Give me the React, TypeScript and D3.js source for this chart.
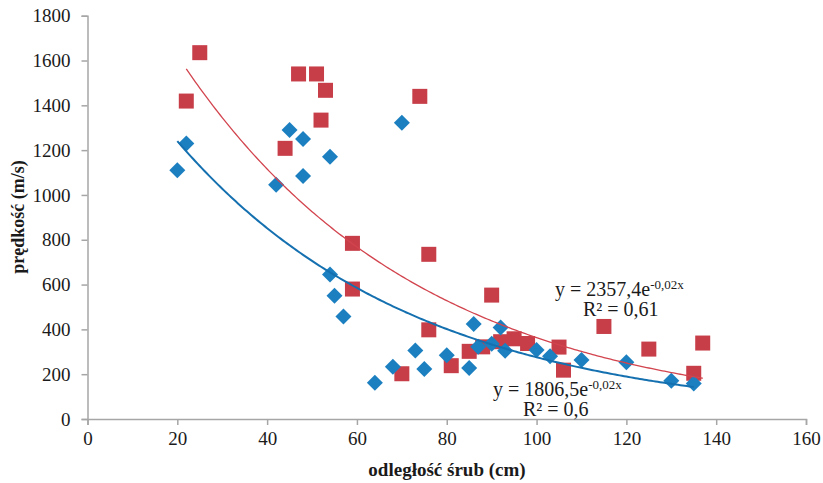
import React, { useRef, useEffect } from "react";
import * as d3 from "d3";

// series 1 (blue diamonds)
const blueDist = [20, 22, 42, 45, 48, 48, 54, 70, 54, 55, 57, 64, 68, 73, 75, 80, 85, 86, 87, 90, 92, 93, 100, 103, 110, 120, 130, 135];
const blueSpeed = [1110, 1230, 1045, 1290, 1250, 1085, 1170, 1322, 645, 550, 458, 162, 233, 306, 223, 285, 228, 424, 322, 336, 408, 305, 308, 280, 263, 253, 171, 159];

// series 2 (red squares)
const redDist = [22, 25, 44, 47, 51, 52, 53, 74, 59, 59, 76, 76, 70, 81, 90, 85, 88, 92, 95, 98, 105, 106, 115, 125, 135, 137];
const redSpeed = [1419, 1635, 1208, 1540, 1540, 1334, 1467, 1440, 784, 580, 735, 398, 202, 238, 553, 302, 322, 345, 358, 337, 321, 218, 413, 312, 204, 339];

// exponential trendlines y = a*e^(-b*x)
const blueFit = { a: 1806.5, b: 0.0188 };
const redFit = { a: 2357.4, b: 0.0187 };

const xTicks = [0, 20, 40, 60, 80, 100, 120, 140, 160];
const yTicks = [0, 200, 400, 600, 800, 1000, 1200, 1400, 1600, 1800];

const FONT = "'Liberation Serif', 'Times New Roman', serif";
const BLUE = "#1B7FC0";
const BLUE_LINE = "#1570B0";
const RED = "#C73E49";
const RED_LINE = "#D2444E";
const AXIS = "#A6A6A6";

export default function App() {
  const svgRef = useRef<SVGSVGElement>(null);

  useEffect(() => {
    const svg = d3.select(svgRef.current);
    svg.selectAll("*").remove();

    const x = d3.scaleLinear().domain([0, 160]).range([87.5, 806]);
    const y = d3.scaleLinear().domain([0, 1800]).range([419, 15.7]);

    // axes
    const gx = svg
      .append("g")
      .attr("transform", `translate(0,${y(0)})`)
      .call(d3.axisBottom(x).tickValues(xTicks).tickSize(6).tickPadding(7).tickFormat(d3.format("d")));
    const gy = svg
      .append("g")
      .attr("transform", `translate(${x(0)},0)`)
      .call(d3.axisLeft(y).tickValues(yTicks).tickSize(6).tickPadding(11).tickFormat(d3.format("d")));
    [gx, gy].forEach((g) => {
      g.select(".domain").attr("stroke", AXIS).attr("stroke-width", 1.5);
      g.selectAll(".tick line").attr("stroke", AXIS).attr("stroke-width", 1.5);
      g.selectAll(".tick text")
        .attr("fill", "#1a1a1a")
        .style("font-family", FONT)
        .style("font-size", "19px");
    });

    // markers
    const red = redDist.map((d, i) => ({ x: d, y: redSpeed[i] }));
    const blue = blueDist.map((d, i) => ({ x: d, y: blueSpeed[i] }));
    const sq = 15;
    svg
      .append("g")
      .selectAll("rect")
      .data(red)
      .join("rect")
      .attr("x", (d) => x(d.x) - sq / 2)
      .attr("y", (d) => y(d.y) - sq / 2)
      .attr("width", sq)
      .attr("height", sq)
      .attr("fill", RED);

    const dm = 8;
    svg
      .append("g")
      .selectAll("path")
      .data(blue)
      .join("path")
      .attr("d", (d) => {
        const cx = x(d.x), cy = y(d.y);
        return `M${cx},${cy - dm}L${cx + dm},${cy}L${cx},${cy + dm}L${cx - dm},${cy}Z`;
      })
      .attr("fill", BLUE);

    // trendlines
    const trend = (fit: { a: number; b: number }, xs: number[]) => {
      const pts = d3.range(d3.min(xs)!, d3.max(xs)! + 0.01, 0.5);
      return d3
        .line<number>()
        .x((v) => x(v))
        .y((v) => y(fit.a * Math.exp(-fit.b * v)))(pts);
    };
    svg.append("path").attr("d", trend(redFit, redDist)).attr("fill", "none").attr("stroke", RED_LINE).attr("stroke-width", 1.3);
    svg.append("path").attr("d", trend(blueFit, blueDist)).attr("fill", "none").attr("stroke", BLUE_LINE).attr("stroke-width", 2);

    // equation labels
    const eq = (px: number, py: number, coef: string, r2x: number, r2: string) => {
      const t = svg.append("text").attr("x", px).attr("y", py).attr("fill", "#1a1a1a").style("font-family", FONT).style("font-size", "20px");
      t.append("tspan").text(`y = ${coef}e`);
      t.append("tspan").attr("dy", -7).style("font-size", "13px").text("-0,02x");
      svg.append("text").attr("x", r2x).attr("y", py + 20).attr("fill", "#1a1a1a").style("font-family", FONT).style("font-size", "20px").text(r2);
    };
    eq(555, 296, "2357,4", 583, "R² = 0,61");
    eq(493, 396, "1806,5", 523, "R² = 0,6");

    // axis titles
    svg
      .append("text")
      .attr("x", 447)
      .attr("y", 476)
      .attr("text-anchor", "middle")
      .style("font-family", FONT)
      .style("font-size", "19px")
      .style("font-weight", "bold")
      .attr("fill", "#1a1a1a")
      .text("odległość śrub (cm)");
    svg
      .append("text")
      .attr("transform", "translate(24,217) rotate(-90)")
      .attr("text-anchor", "middle")
      .style("font-family", FONT)
      .style("font-size", "18px")
      .style("font-weight", "bold")
      .attr("fill", "#1a1a1a")
      .text("prędkość (m/s)");
  }, []);

  return (
    <svg
      ref={svgRef}
      width={823}
      height={483}
      style={{ position: "absolute", left: 0, top: 0, background: "#fff" }}
    ></svg>
  );
}
